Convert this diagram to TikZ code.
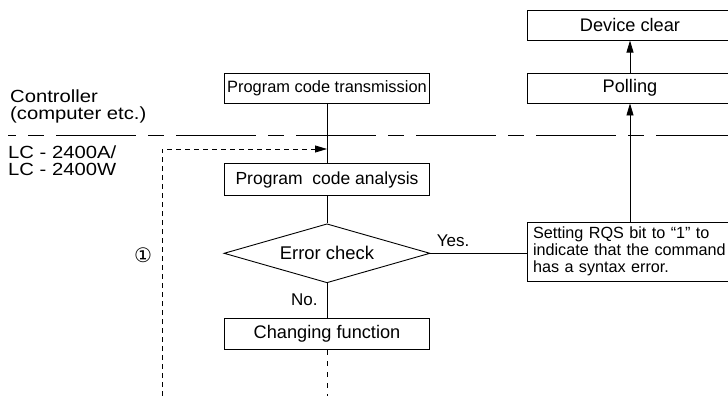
\documentclass[tikz,border=0pt]{standalone}
\usepackage{fontspec}
\setmainfont{Liberation Sans}
\newfontfamily\widefont[FakeStretch=1.15]{Liberation Sans}
\newfontfamily\symfont{DejaVu Sans}
\usetikzlibrary{arrows.meta,positioning,shapes.geometric}

\begin{document}
\begin{tikzpicture}[
      x=1pt, y=-1pt,
      box/.style={draw, line width=0.9pt, minimum width=205pt, inner sep=0pt,
                  font=\fontsize{18.2}{20}\selectfont},
      check/.style={draw, diamond, line width=0.9pt, minimum width=206pt,
                  minimum height=59pt, inner sep=0pt, aspect=3.5,
                  font=\fontsize{18.4}{20}\selectfont},
      note/.style={draw, line width=0.9pt, minimum width=206pt, minimum height=59pt,
                  text width=194pt, inner xsep=6pt, inner ysep=0pt, align=left,
                  font=\fontsize{16.2}{17}\selectfont},
      side/.style={align=left, inner sep=0pt, font=\widefont\fontsize{17.6}{17}\selectfont},
      lbl/.style={inner sep=0pt, font=\fontsize{17}{19}\selectfont},
      link/.style={line width=0.8pt},
      arrow/.style={-{Triangle[length=12pt, width=7pt]}, line width=0.8pt},
      loop/.style={-{Triangle[length=12pt, width=7pt]}, line width=0.8pt,
                  dash pattern=on 5pt off 4pt},
      divider/.style={line width=1pt, dash pattern=on 16pt off 12pt on 80pt off 12pt,
                  dash phase=100pt}
    ]
    \useasboundingbox (0,0) rectangle (728,396);
    \clip (0,0) rectangle (728,396);

    % controller / instrument border
    \draw[divider] (8,135) -- (728,135);
    \node[side, anchor=base west] (ctrl) at (10,119) {Controller\\(computer etc.)};
    \node[side, anchor=base west] (inst) at (8,175) {LC - 2400A/\\LC - 2400W};

    % main flow
    \node[box, minimum height=30pt, font=\fontsize{16.4}{18}\selectfont] (trans) at (327,88) {Program code transmission};
    \node[box, minimum height=32pt, below=60pt of trans, font=\fontsize{17.5}{19}\selectfont] (analysis) {Program\ \ code analysis};
    \node[check, below=27pt of analysis] (errcheck) {Error check};
    \node[box, minimum height=31pt, below=35pt of errcheck] (change) {Changing function};

    % service request side
    \node[box, minimum width=206pt, minimum height=30pt] (polling) at (630,88) {Polling};
    \node[box, minimum width=206pt, minimum height=30pt, above=32pt of polling] (devclear) {Device clear};
    \node[note] (rqs) at (630,251.5) {Setting RQS bit to “1” to\\indicate that the command\\has a syntax error.};

    \coordinate (join) at (327,149);
    \coordinate (loopend) at (162,396);
    \coordinate (down) at (327,396);
    \node[font=\symfont\fontsize{20}{20}\selectfont, inner sep=0pt] (mark) at (143,255) {①};

    \draw[link] (trans) -- (analysis);
    \draw[link] (analysis) -- (errcheck);
    \draw[link] (errcheck) -- node[lbl, pos=0.63, anchor=base east, xshift=-9pt] (no) {No.} (change);
    \draw[link] (errcheck.east) -- node[lbl, pos=0, anchor=base west, xshift=6pt, yshift=6.5pt] (yes) {Yes.} (errcheck.east -| rqs.west);
    \draw[arrow] (rqs) -- (polling);
    \draw[arrow] (polling) -- (devclear);
    \draw[loop] (loopend) |- (join);
    \draw[link, dash pattern=on 5pt off 6pt] (change) -- (down);
  \end{tikzpicture}
\end{document}
